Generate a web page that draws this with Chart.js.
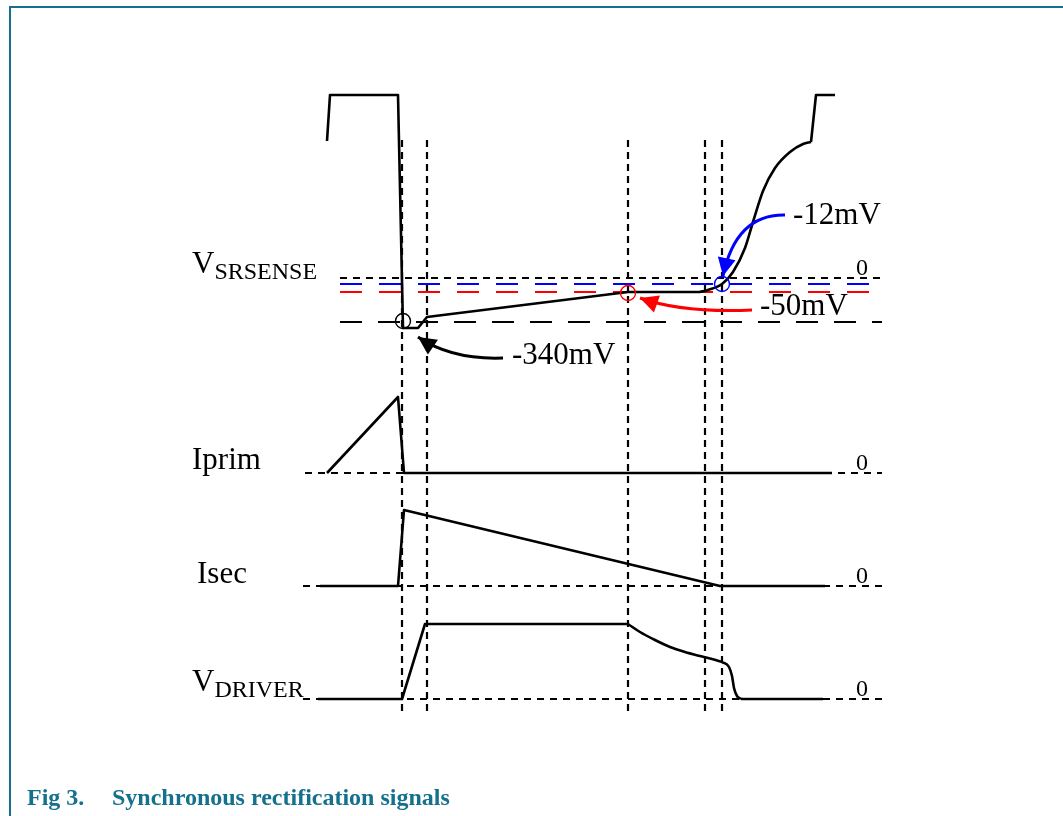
<!DOCTYPE html>
<html>
<head>
<meta charset="utf-8">
<script src="https://cdn.jsdelivr.net/npm/chart.js@4/dist/chart.umd.min.js"></script>
<style>
  html, body { margin: 0; padding: 0; background: #ffffff; }
  #wrap { width: 1063px; height: 816px; position: relative; }
</style>
</head>
<body>
<div id="wrap"><canvas id="sig" width="1063" height="816"></canvas></div>
<script>
// Diagram coordinates (x to the right, y downward)

// V_SRSENSE trace
const vsenseX = [327, 330, 398, 403, 418, 427, 628, 700];
const vsenseY = [141, 95, 95, 328, 328, 317, 292, 292];
const vsenseRiseX = [700, 708, 722, 733, 745, 753, 763, 775, 790, 803, 811];
const vsenseRiseY = [292, 290, 284, 272, 248, 222, 191, 168, 152, 144, 142];
const vsenseTopX = [811, 816, 835];
const vsenseTopY = [142, 95, 95];

// Iprim trace
const iprimX = [327, 398, 404, 832];
const iprimY = [473, 397, 473, 473];

// Isec trace
const isecX = [320, 398, 404, 720, 825];
const isecY = [586, 586, 510, 586, 586];

// V_DRIVER trace
const vdrvX = [318, 402, 425, 628];
const vdrvY = [699, 699, 624, 624];
const vdrvFallX = [628, 640, 655, 670, 685, 700, 712, 722];
const vdrvFallY = [624, 632, 640, 647, 652, 656, 659, 662];
const vdrvDropX = [722, 729, 732, 734, 737, 741];
const vdrvDropY = [662, 667, 676, 688, 696, 699];
const vdrvEndX = [741, 823];
const vdrvEndY = [699, 699];

// reference levels on the V_SRSENSE panel: 0, -12mV, -50mV, -340mV
const senseLevels = [278, 284, 292, 322];
const senseLevelColors = ['#000000', '#0000ff', '#ff0000', '#000000'];
const senseLevelDash = [[7, 6], [22, 17], [22, 17], [22, 16]];
const senseStart = 340, levelEnd = 882;

// zero lines of the lower panels
const zeroLevels = [473, 586, 699];
const zeroStarts = [305, 303, 303];

// vertical timing markers
const markerX = [402, 427, 628, 705, 722];
const markerTop = 140, markerBottom = 716;

// threshold circles
const circleX = [403, 628, 722];
const circleY = [321, 293, 284];
const circleColors = ['#000000', '#ff0000', '#0000ff'];

// annotation arrows: start, bend, tip
const arrowFrom = [[785, 215], [752, 310], [503, 358]];
const arrowBend = [[736, 214], [682, 313], [452, 360]];
const arrowTip = [[723, 276], [640, 298], [418, 337]];
const arrowColors = ['#0000ff', '#ff0000', '#000000'];

const annotTexts = ['-12mV', '-50mV', '-340mV'];
const annotX = [793, 760, 512];
const annotY = [224, 315, 364];

const zeroLabelY = [275, 470, 583, 696];

function pts(xs, ys) {
    return xs.map((x, i) => ({ x: x, y: ys[i] }));
}

const teal = '#14708c';
const serif = '"Liberation Serif", "Times New Roman", serif';

function trace(xs, ys, curved) {
    return {
        data: pts(xs, ys),
        showLine: true,
        borderColor: '#000000',
        borderWidth: 2.6,
        pointRadius: 0,
        fill: false,
        tension: curved ? 0.4 : 0,
        cubicInterpolationMode: curved ? 'monotone' : 'default',
        borderJoinStyle: 'round',
        order: 1
    };
}

function dashed(xs, ys, color, dash, width) {
    return {
        data: pts(xs, ys),
        showLine: true,
        borderColor: color,
        borderWidth: width,
        borderDash: dash,
        borderCapStyle: 'butt',
        pointRadius: 0,
        fill: false,
        order: 3
    };
}

const datasets = [];
senseLevels.forEach((y, i) => {
    datasets.push(dashed([senseStart, levelEnd], [y, y], senseLevelColors[i], senseLevelDash[i], i === 0 ? 2 : 2.2));
});
zeroLevels.forEach((y, i) => {
    datasets.push(dashed([zeroStarts[i], levelEnd], [y, y], '#000000', [7, 6], 2));
});
markerX.forEach(x => {
    datasets.push(dashed([x, x], [markerTop, markerBottom], '#000000', [7, 5], 2.2));
});

datasets.push(trace(vsenseX, vsenseY, false));
datasets.push(trace(vsenseRiseX, vsenseRiseY, true));
datasets.push(trace(vsenseTopX, vsenseTopY, false));
datasets.push(trace(iprimX, iprimY, false));
datasets.push(trace(isecX, isecY, false));
datasets.push(trace(vdrvX, vdrvY, false));
datasets.push(trace(vdrvFallX, vdrvFallY, true));
datasets.push(trace(vdrvDropX, vdrvDropY, true));
datasets.push(trace(vdrvEndX, vdrvEndY, false));

datasets.push({
    data: pts(circleX, circleY),
    showLine: false,
    pointStyle: 'circle',
    pointRadius: 7.5,
    pointBorderWidth: 1.4,
    pointBorderColor: circleColors,
    pointBackgroundColor: 'rgba(0,0,0,0)',
    order: 0
});

// frame, labels, arrows and caption
const decorPlugin = {
    id: 'decor',
    beforeDraw(chart) {
        const ctx = chart.ctx;
        const xs = chart.scales.x, ys = chart.scales.y;
        ctx.save();
        ctx.fillStyle = '#ffffff';
        ctx.fillRect(0, 0, chart.width, chart.height);
        ctx.strokeStyle = teal;
        ctx.lineWidth = 2;
        ctx.beginPath();
        ctx.moveTo(xs.getPixelForValue(10), ys.getPixelForValue(816));
        ctx.lineTo(xs.getPixelForValue(10), ys.getPixelForValue(7));
        ctx.lineTo(xs.getPixelForValue(1063), ys.getPixelForValue(7));
        ctx.stroke();
        ctx.restore();
    },
    afterDraw(chart) {
        const ctx = chart.ctx;
        const xs = chart.scales.x, ys = chart.scales.y;
        const px = v => xs.getPixelForValue(v);
        const py = v => ys.getPixelForValue(v);
        ctx.save();

        // arrows
        arrowFrom.forEach((from, i) => {
            const bend = arrowBend[i], tip = arrowTip[i];
            ctx.strokeStyle = arrowColors[i];
            ctx.fillStyle = arrowColors[i];
            ctx.lineWidth = 3;
            ctx.beginPath();
            ctx.moveTo(px(from[0]), py(from[1]));
            ctx.quadraticCurveTo(px(bend[0]), py(bend[1]), px(tip[0]), py(tip[1]));
            ctx.stroke();
            const dx = px(tip[0]) - px(bend[0]), dy = py(tip[1]) - py(bend[1]);
            const len = Math.hypot(dx, dy);
            const ux = dx / len, uy = dy / len;
            const hl = 18, hw = 9;
            const bx = px(tip[0]) - ux * hl, by = py(tip[1]) - uy * hl;
            ctx.beginPath();
            ctx.moveTo(px(tip[0]), py(tip[1]));
            ctx.lineTo(bx - uy * hw, by + ux * hw);
            ctx.lineTo(bx + uy * hw, by - ux * hw);
            ctx.closePath();
            ctx.fill();
        });

        ctx.fillStyle = '#000000';
        ctx.textBaseline = 'alphabetic';
        ctx.textAlign = 'left';

        // signal names
        ctx.font = '31px ' + serif;
        ctx.fillText('V', px(192), py(273));
        let w = ctx.measureText('V').width;
        ctx.font = '24px ' + serif;
        ctx.fillText('SRSENSE', px(192) + w, py(279));

        ctx.font = '31px ' + serif;
        ctx.fillText('Iprim', px(192), py(469));
        ctx.fillText('Isec', px(197), py(583));
        ctx.fillText('V', px(192), py(691));
        w = ctx.measureText('V').width;
        ctx.font = '24px ' + serif;
        ctx.fillText('DRIVER', px(192) + w, py(697));

        // threshold values
        ctx.font = '31px ' + serif;
        annotTexts.forEach((t, i) => ctx.fillText(t, px(annotX[i]), py(annotY[i])));

        // zero marks
        ctx.font = '24px ' + serif;
        zeroLabelY.forEach(y => ctx.fillText('0', px(856), py(y)));

        // caption
        ctx.fillStyle = teal;
        ctx.font = 'bold 24px ' + serif;
        ctx.fillText('Fig 3.', px(27), py(805));
        ctx.fillText('Synchronous rectification signals', px(112), py(805));
        ctx.restore();
    }
};

new Chart(document.getElementById('sig'), {
    type: 'scatter',
    data: { datasets: datasets },
    options: {
        responsive: false,
        animation: false,
        layout: { padding: 0, autoPadding: false },
        plugins: { legend: { display: false }, tooltip: { enabled: false } },
        scales: {
            x: { type: 'linear', min: 0, max: 1063, display: false },
            y: { type: 'linear', min: 0, max: 816, reverse: true, display: false }
        }
    },
    plugins: [decorPlugin]
});
</script>
</body>
</html>
